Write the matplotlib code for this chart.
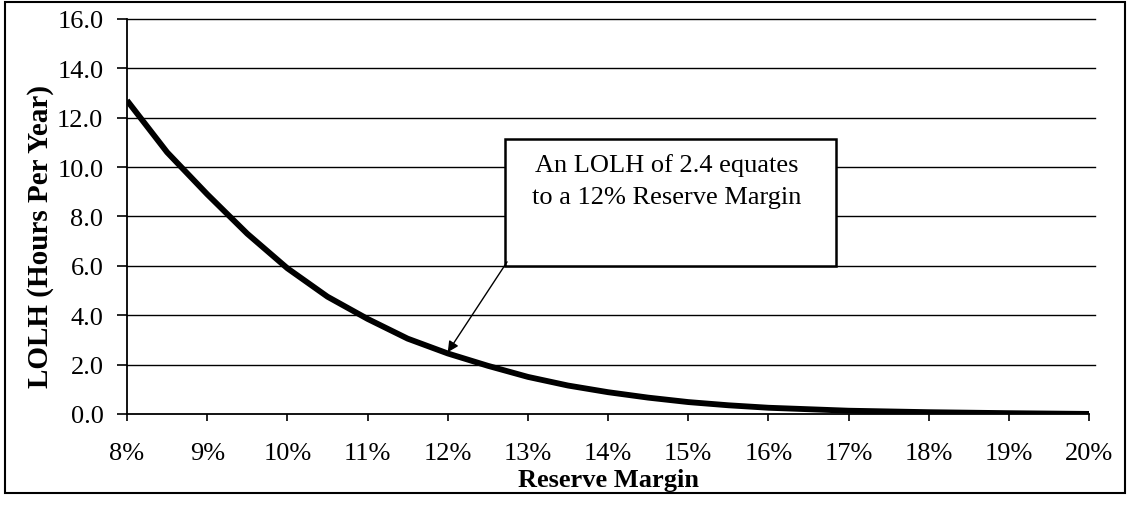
import matplotlib.pyplot as plt
from matplotlib.patches import Rectangle

# Reserve margin (%) vs LOLH
margin = [8, 8.5, 9, 9.5, 10, 10.5, 11, 11.5, 12, 12.5, 13, 13.5, 14,
          14.5, 15, 15.5, 16, 17, 18, 19, 20]
lolh = [12.7, 10.6, 8.9, 7.3, 5.9, 4.75, 3.85, 3.05, 2.45, 1.95, 1.5, 1.15, 0.88,
        0.66, 0.48, 0.35, 0.25, 0.13, 0.07, 0.03, 0.0]

x_ticks = list(range(8, 21))
x_labels = [f'{v}%' for v in x_ticks]
y_ticks = [0, 2, 4, 6, 8, 10, 12, 14, 16]
y_labels = [f'{v:.1f}' for v in y_ticks]

note = 'An LOLH of 2.4 equates\nto a 12% Reserve Margin'
note_point = (12.0, 2.5)

plt.rcParams['font.family'] = ['Liberation Serif', 'DejaVu Serif']

fig = plt.figure(figsize=(11.28, 5.06), dpi=100)
ax = fig.add_axes([0.1126, 0.18, 0.853, 0.7805])

# outer frame around the whole chart
fig.patches.append(Rectangle((0.004, 0.024), 0.993, 0.971, transform=fig.transFigure,
                             fill=False, edgecolor='black', linewidth=1.5))

for yv in y_ticks[1:]:
    ax.axhline(yv, color='black', linewidth=1.0, xmin=0, xmax=1.006, clip_on=False)

ax.plot(margin, lolh, color='black', linewidth=4.2, solid_capstyle='butt', zorder=3)

ax.set_xlim(8, 20)
ax.set_ylim(0, 16)
ax.set_xticks(x_ticks)
ax.set_xticklabels(x_labels)
ax.set_yticks(y_ticks)
ax.set_yticklabels(y_labels)
ax.tick_params(axis='both', labelsize=19, direction='out', width=1.2)
ax.tick_params(axis='x', length=5, pad=15)
ax.tick_params(axis='y', length=7, pad=10)

for side in ['top', 'right']:
    ax.spines[side].set_visible(False)
for side in ['left', 'bottom']:
    ax.spines[side].set_linewidth(1.3)

ax.set_xlabel('Reserve Margin', fontsize=19, fontweight='bold', labelpad=3)
ax.set_ylabel('LOLH (Hours Per Year)', fontsize=21, fontweight='bold')
ax.yaxis.set_label_coords(-0.076, 0.453)

# annotation box with arrow pointing at the curve
ax.add_patch(Rectangle((0.3925, 0.375), 0.3445, 0.321, transform=ax.transAxes,
                       facecolor='white', edgecolor='black', linewidth=1.8,
                       zorder=4, clip_on=False))
ax.text(0.561, 0.591, note, transform=ax.transAxes, fontsize=19,
        ha='center', va='center', linespacing=1.55, zorder=5)
ax.annotate('', xy=note_point, xytext=(0.395, 0.385), textcoords='axes fraction',
            arrowprops=dict(arrowstyle='-|>', color='black', linewidth=1.0,
                            mutation_scale=16, shrinkA=0, shrinkB=0),
            zorder=5)

plt.savefig('out.png', dpi=100)
